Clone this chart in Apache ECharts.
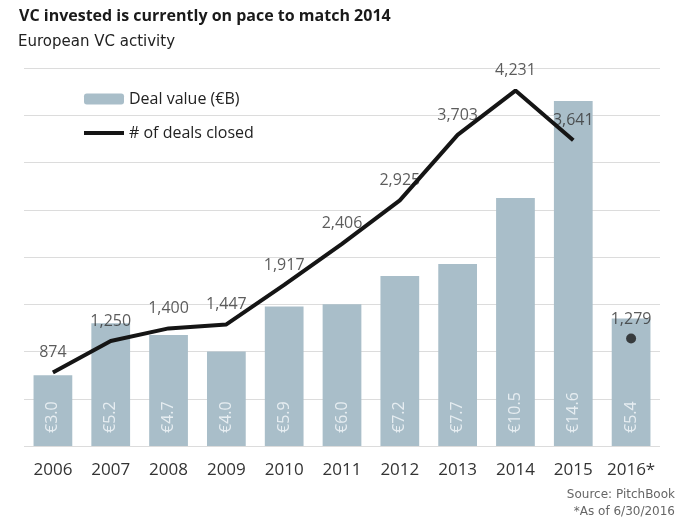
<!DOCTYPE html>
<html>
<head>
<meta charset="utf-8">
<script src="https://cdn.jsdelivr.net/npm/echarts@6/dist/echarts.min.js"></script>
<style>html,body{margin:0;padding:0;background:#fff;}#c{width:690px;height:520px;}</style>
</head>
<body>
<div id="c"></div>
<script>
var categories = ['2006','2007','2008','2009','2010','2011','2012','2013','2014','2015','2016*'];
var dealValue = [3.0, 5.2, 4.7, 4.0, 5.9, 6.0, 7.2, 7.7, 10.5, 14.6, 5.4];
var dealsClosed = [874, 1250, 1400, 1447, 1917, 2406, 2925, 3703, 4231, 3641, null];
var dealsPartial = [null, null, null, null, null, null, null, null, null, null, 1279];

var chart = echarts.init(document.getElementById('c'));
var fmt = function (v) { return v.toLocaleString('en-US'); };
chart.setOption({
  backgroundColor: '#fff',
  animation: false,
  textStyle: { fontFamily: 'Open Sans' },
  title: [
    { text: 'VC invested is currently on pace to match 2014', left: 14, top: 3,
      textStyle: { fontFamily: 'Open Sans', fontWeight: 'bold', fontSize: 16, color: '#1a1a1a' } },
    { text: 'European VC activity', left: 13, top: 30,
      textStyle: { fontFamily: 'DejaVu Sans', fontWeight: 'normal', fontSize: 15, color: '#222' } },
    { text: 'Source: PitchBook', right: 10, top: 484,
      textStyle: { fontFamily: 'DejaVu Sans', fontWeight: 'normal', fontSize: 12, color: '#666' } },
    { text: '*As of 6/30/2016', right: 10, top: 501,
      textStyle: { fontFamily: 'DejaVu Sans', fontWeight: 'normal', fontSize: 12, color: '#666' } }
  ],
  legend: {
    orient: 'vertical', left: 77, top: 86, itemWidth: 40, itemHeight: 11, itemGap: 18,
    textStyle: { fontSize: 16, color: '#222', fontFamily: 'Open Sans' },
    data: ['Deal value (€B)', { name: '# of deals closed', itemStyle: { opacity: 0 }, lineStyle: { width: 4, color: '#151515' } }]
  },
  grid: { left: 24, right: 30, top: 68, bottom: 74 },
  xAxis: {
    type: 'category', data: categories,
    axisLine: { show: false }, axisTick: { show: false },
    axisLabel: { fontSize: 17, color: '#333', margin: 16, interval: 0 }
  },
  yAxis: [
    { type: 'value', min: 0, max: 16, interval: 2,
      axisLabel: { show: false }, axisLine: { show: false }, axisTick: { show: false },
      splitLine: { lineStyle: { color: '#dcdcdc', width: 1 } } },
    { type: 'value', min: 0, max: 4500, show: false, splitLine: { show: false } }
  ],
  series: [
    { name: 'Deal value (€B)', type: 'bar', data: dealValue, barCategoryGap: '33%',
      itemStyle: { color: '#a9bec9' },
      label: { show: true, position: 'insideBottom', rotate: 90, align: 'left', verticalAlign: 'middle',
        distance: 13, fontSize: 16, color: '#e6edf1',
        formatter: function (p) { return '€' + p.value.toFixed(1); } } },
    { name: '# of deals closed', type: 'line', yAxisIndex: 1, data: dealsClosed,
      symbol: 'none', lineStyle: { color: '#151515', width: 4 }, itemStyle: { color: '#151515' } },
    { name: 'labels', type: 'scatter', yAxisIndex: 1, data: dealsClosed, symbolSize: 0,
      itemStyle: { color: 'transparent' },
      label: { show: true, position: 'top', distance: 12, fontSize: 16, color: '#333',
        formatter: function (p) { return fmt(p.value); } },
      labelLayout: { hideOverlap: false } },
    { name: 'partial', type: 'scatter', yAxisIndex: 1, data: dealsPartial, symbolSize: 10,
      itemStyle: { color: '#1a1a1a' },
      label: { show: true, position: 'top', distance: 6, fontSize: 16, color: '#333',
        formatter: function (p) { return fmt(p.value); } } }
  ]
});
</script>
</body>
</html>
